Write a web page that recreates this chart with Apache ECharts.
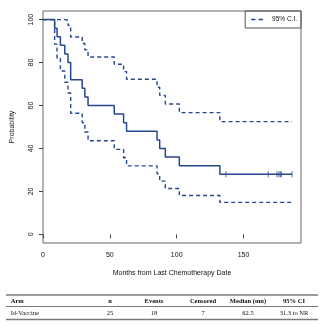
<!DOCTYPE html>
<html>
<head>
<meta charset="utf-8">
<script src="https://cdn.jsdelivr.net/npm/echarts@6/dist/echarts.min.js"></script>
<style>
  html, body { margin: 0; padding: 0; background: #fff; }
  #chart { width: 328px; height: 326px; }
</style>
</head>
<body>
<div id="chart"></div>
<script>
// Kaplan-Meier step curve (months, survival %)
const kmTime = [0, 8.7, 10.5, 13, 16.3, 18.7, 20.7, 29.3, 31.3, 33.7, 53.3, 60.3, 62.5, 85.3, 87.3, 91.5, 102, 132.3, 186.3];
const kmSurv = [100, 96, 92, 88, 84, 80, 72, 68, 64, 60, 56, 52, 48, 44, 40, 36, 32, 28, 28];
// 95% confidence band, same step times
const ciUpper = [100, 100, 100, 100, 99.7, 97.3, 91.9, 88.9, 85.9, 82.6, 79.2, 75.8, 72.2, 68.5, 64.7, 60.7, 56.7, 52.5, 52.5];
const ciLower = [100, 88.6, 82.0, 76.1, 70.8, 65.8, 56.4, 52.0, 47.7, 43.6, 39.6, 35.7, 31.9, 28.2, 24.8, 21.4, 18.1, 14.9, 14.9];
// Censored observations
const censorTime = [136.8, 168.5, 175, 176.5, 177.5, 178.3, 186.3];
const censorSurv = [28, 28, 28, 28, 28, 28, 28];
// Axis ticks
const xTicks = [0, 50, 100, 150];
const yTicks = [0, 20, 40, 60, 80, 100];
// Summary table
const tableHeader = ['Arm', 'n', 'Events', 'Censored', 'Median (mn)', '95% CI'];
const tableRow = ['Id-Vaccine', '25', '18', '7', '62.5', '31.3 to NR'];

const zip = (a, b) => a.map((v, i) => [v, b[i]]);
const navy = '#274690';
const sans = '"Liberation Sans", Arial, sans-serif';
const serif = '"Liberation Serif", "Times New Roman", serif';

const chart = echarts.init(document.getElementById('chart'), null, { renderer: 'canvas' });

// Table layout
const colX = [10.7, 110, 154, 203, 248, 294];
const colAlign = ['left', 'center', 'center', 'center', 'center', 'center'];
const tableGraphics = [];
[[295, 1.5], [306.5, 1], [319.5, 1.5]].forEach(([y, w]) => {
  tableGraphics.push({
    type: 'line', shape: { x1: 6, y1: y, x2: 318, y2: y },
    style: { stroke: '#7a7a7a', lineWidth: w }
  });
});
tableHeader.forEach((t, i) => {
  tableGraphics.push({
    type: 'text', x: colX[i], y: 301,
    style: { text: t, font: 'bold 6.5px ' + serif, fill: '#111', align: colAlign[i], verticalAlign: 'middle' }
  });
});
tableRow.forEach((t, i) => {
  tableGraphics.push({
    type: 'text', x: colX[i], y: 313,
    style: { text: t, font: '6.5px ' + serif, fill: '#111', align: colAlign[i], verticalAlign: 'middle' }
  });
});

chart.setOption({
  animation: false,
  backgroundColor: '#fff',
  grid: {
    left: 43, right: 27, top: 11, bottom: 83,
    show: true, borderColor: '#666', borderWidth: 1, backgroundColor: 'transparent'
  },
  legend: {
    // two short dashes as the key for the confidence band
    data: [{ name: '95% C.I.', icon: 'path://M0,0H4V1.4H0Z M7,0H11V1.4H7Z' }],
    right: 27, top: 11,
    orient: 'horizontal',
    itemWidth: 12, itemHeight: 1.5,
    padding: [5, 4, 5, 6],
    borderColor: '#555', borderWidth: 1,
    itemStyle: { color: navy },
    textStyle: { fontFamily: sans, fontSize: 6.5, color: '#111', padding: [0, 0, 0, 4] }
  },
  xAxis: {
    type: 'value', min: 0, max: 193,
    name: 'Months from Last Chemotherapy Date',
    nameLocation: 'middle', nameGap: 27,
    nameTextStyle: { fontFamily: sans, fontSize: 7, color: '#111' },
    axisLine: { show: false },
    axisTick: { show: true, length: 4, customValues: xTicks, lineStyle: { color: '#444' } },
    axisLabel: { customValues: xTicks, fontFamily: sans, fontSize: 7, color: '#111', margin: 9 },
    splitLine: { show: false }
  },
  yAxis: {
    type: 'value', min: -4, max: 104,
    name: 'Probability',
    nameLocation: 'middle', nameGap: 27,
    nameTextStyle: { fontFamily: sans, fontSize: 7, color: '#111' },
    axisLine: { show: false },
    axisTick: { show: true, length: 4, customValues: yTicks, lineStyle: { color: '#444' } },
    axisLabel: { customValues: yTicks, rotate: 90, fontFamily: sans, fontSize: 7, color: '#111', margin: 8 },
    splitLine: { show: false }
  },
  series: [
    {
      name: '95% C.I.', type: 'line', step: 'end', symbol: 'none',
      data: zip(kmTime, ciUpper),
      lineStyle: { color: navy, width: 1.4, type: [4, 3] },
      itemStyle: { color: navy }, z: 2
    },
    {
      name: '95% C.I.', type: 'line', step: 'end', symbol: 'none',
      data: zip(kmTime, ciLower),
      lineStyle: { color: navy, width: 1.4, type: [4, 3] },
      itemStyle: { color: navy }, z: 2
    },
    {
      name: 'Id-Vaccine', type: 'line', step: 'end', symbol: 'none',
      data: zip(kmTime, kmSurv),
      lineStyle: { color: navy, width: 1.5 },
      itemStyle: { color: navy }, z: 3
    },
    {
      name: 'Censored', type: 'scatter',
      data: zip(censorTime, censorSurv),
      symbol: 'rect', symbolSize: [1, 6],
      itemStyle: { color: navy }, z: 4
    }
  ],
  graphic: tableGraphics
});
</script>
</body>
</html>
